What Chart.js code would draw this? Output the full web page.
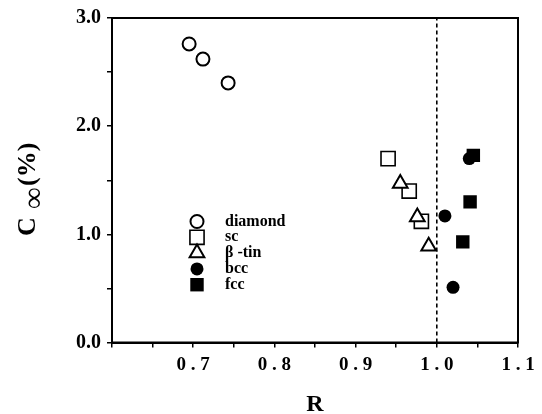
<!DOCTYPE html>
<html>
<head>
<meta charset="utf-8">
<script src="https://cdn.jsdelivr.net/npm/chart.js@4.4.0/dist/chart.umd.min.js"></script>
<style>
  html, body { margin: 0; padding: 0; background: #fff; }
  #wrap { width: 542px; height: 414px; }
</style>
</head>
<body>
<div id="wrap"><canvas id="c"></canvas></div>
<script>
// data: R on x, C-infinity (%) on y
const seriesNames = ['diamond', 'sc', 'β -tin', 'bcc', 'fcc'];
const diamondR = [0.695, 0.712, 0.743];
const diamondC = [2.76, 2.62, 2.40];
const scR = [0.940, 0.966, 0.981];
const scC = [1.70, 1.40, 1.12];
const tinR = [0.955, 0.976, 0.990];
const tinC = [1.47, 1.16, 0.89];
const bccR = [1.010, 1.020, 1.040];
const bccC = [1.17, 0.51, 1.70];
const fccR = [1.045, 1.041, 1.032];
const fccC = [1.73, 1.30, 0.93];

const xTickLabels = ['0.7', '0.8', '0.9', '1.0', '1.1'];
const yTickLabels = ['0.0', '1.0', '2.0', '3.0'];
const dividerR = 1.0;

const SERIF = "'Liberation Serif', 'DejaVu Serif', serif";

const toPoints = (xs, ys) => xs.map((x, i) => ({ x: x, y: ys[i] }));

// marker styles, shared by the datasets and the inline legend
const markers = [
    { pointStyle: 'circle', radius: 6.5, borderWidth: 2, fill: '#fff' },
    { pointStyle: 'rect', radius: 10, borderWidth: 1.6, fill: '#fff' },
    { pointStyle: 'triangle', radius: 8.5, borderWidth: 2, fill: '#fff' },
    { pointStyle: 'circle', radius: 6.5, borderWidth: 0, fill: '#000' },
    { pointStyle: 'rect', radius: 9.5, borderWidth: 0, fill: '#000' }
];
const seriesData = [
    toPoints(diamondR, diamondC),
    toPoints(scR, scC),
    toPoints(tinR, tinC),
    toPoints(bccR, bccC),
    toPoints(fccR, fccC)
];
// triangles sit on top of the squares
const drawOrder = [3, 4, 1, 2, 5];

const labelFor = (list, v) => {
    const s = v.toFixed(1);
    if (Math.abs(v * 10 - Math.round(v * 10)) > 1e-6) return '';
    return list.includes(s) ? s : '';
};

// dashed line at R = 1 plus the closed frame
const framePlugin = {
    id: 'frame',
    beforeDatasetsDraw(chart) {
        const { ctx, chartArea: a, scales } = chart;
        const x = scales.x.getPixelForValue(dividerR);
        ctx.save();
        ctx.strokeStyle = '#000';
        ctx.lineWidth = 1.6;
        ctx.setLineDash([4, 3]);
        ctx.beginPath();
        ctx.moveTo(x, a.bottom);
        ctx.lineTo(x, a.top);
        ctx.stroke();
        ctx.restore();
    },
    afterDraw(chart) {
        const { ctx, chartArea: a } = chart;
        ctx.save();
        ctx.strokeStyle = '#000';
        ctx.lineWidth = 2;
        ctx.strokeRect(a.left, a.top, a.right - a.left, a.bottom - a.top);
        ctx.restore();
    }
};

// legend drawn inside the plot, lower left
const insideLegend = {
    id: 'insideLegend',
    afterDatasetsDraw(chart) {
        const { ctx, chartArea: a } = chart;
        const mx = a.left + 85, tx = a.left + 113, y0 = a.top + 203.5, step = 15.8;
        ctx.save();
        seriesNames.forEach((name, i) => {
            const m = markers[i];
            const y = y0 + i * step;
            ctx.fillStyle = m.fill;
            ctx.strokeStyle = '#000';
            ctx.lineWidth = m.borderWidth;
            Chart.helpers.drawPoint(ctx, { pointStyle: m.pointStyle, radius: m.radius, rotation: 0, borderWidth: m.borderWidth }, mx, y);
            ctx.fillStyle = '#000';
            ctx.font = 'bold 16px ' + SERIF;
            ctx.textBaseline = 'middle';
            ctx.textAlign = 'left';
            ctx.fillText(name, tx, y);
        });
        ctx.restore();
    }
};

// y title with subscript infinity
const yTitle = {
    id: 'yTitle',
    afterDraw(chart) {
        const { ctx } = chart;
        ctx.save();
        ctx.translate(35, 186);
        ctx.rotate(-Math.PI / 2);
        ctx.fillStyle = '#000';
        ctx.textBaseline = 'alphabetic';
        ctx.textAlign = 'left';
        ctx.font = 'bold 26px ' + SERIF;
        ctx.fillText('C', -50, 0);
        ctx.font = 'bold 30px ' + SERIF;
        ctx.textAlign = 'center';
        ctx.textBaseline = 'middle';
        ctx.fillText('∞', -12, 0);
        ctx.font = 'bold 26px ' + SERIF;
        ctx.textAlign = 'left';
        ctx.textBaseline = 'alphabetic';
        ctx.fillText('(%)', 0, 0);
        ctx.restore();
    }
};

new Chart(document.getElementById('c'), {
    type: 'scatter',
    data: {
        datasets: seriesNames.map((name, i) => ({
            label: name,
            data: seriesData[i],
            order: drawOrder[i],
            pointStyle: markers[i].pointStyle,
            pointRadius: markers[i].radius,
            pointHoverRadius: markers[i].radius,
            pointBorderWidth: markers[i].borderWidth,
            pointBackgroundColor: markers[i].fill,
            pointBorderColor: '#000'
        }))
    },
    options: {
        responsive: true,
        maintainAspectRatio: false,
        animation: false,
        layout: { padding: { left: 0, right: 24, top: 0, bottom: 0 } },
        plugins: { legend: { display: false }, tooltip: { enabled: false } },
        scales: {
            x: {
                type: 'linear',
                min: 0.6,
                max: 1.1,
                afterFit: (s) => { s.height = 71.5; },
                ticks: {
                    stepSize: 0.05,
                    autoSkip: false,
                    maxRotation: 0,
                    padding: 6,
                    color: '#000',
                    font: { family: SERIF, size: 19, weight: 'bold' },
                    callback: (v) => labelFor(xTickLabels, v).split('').join(' ')
                },
                grid: { drawOnChartArea: false, drawTicks: true, tickLength: 5, color: '#000', lineWidth: 1.5 },
                border: { display: true, color: '#000', width: 2 },
                title: {
                    display: true,
                    text: 'R',
                    color: '#000',
                    font: { family: SERIF, size: 24, weight: 'bold', lineHeight: 0.8 },
                    padding: { top: 0, bottom: 0 }
                }
            },
            y: {
                type: 'linear',
                min: 0,
                max: 3,
                afterFit: (s) => { s.width = 112; },
                ticks: {
                    stepSize: 0.5,
                    autoSkip: false,
                    padding: 6,
                    color: '#000',
                    font: { family: SERIF, size: 20, weight: 'bold' },
                    callback: (v) => labelFor(yTickLabels, v)
                },
                grid: { drawOnChartArea: false, drawTicks: true, tickLength: 5, color: '#000', lineWidth: 1.5 },
                border: { display: true, color: '#000', width: 2 }
            }
        }
    },
    plugins: [framePlugin, insideLegend, yTitle]
});
</script>
</body>
</html>
